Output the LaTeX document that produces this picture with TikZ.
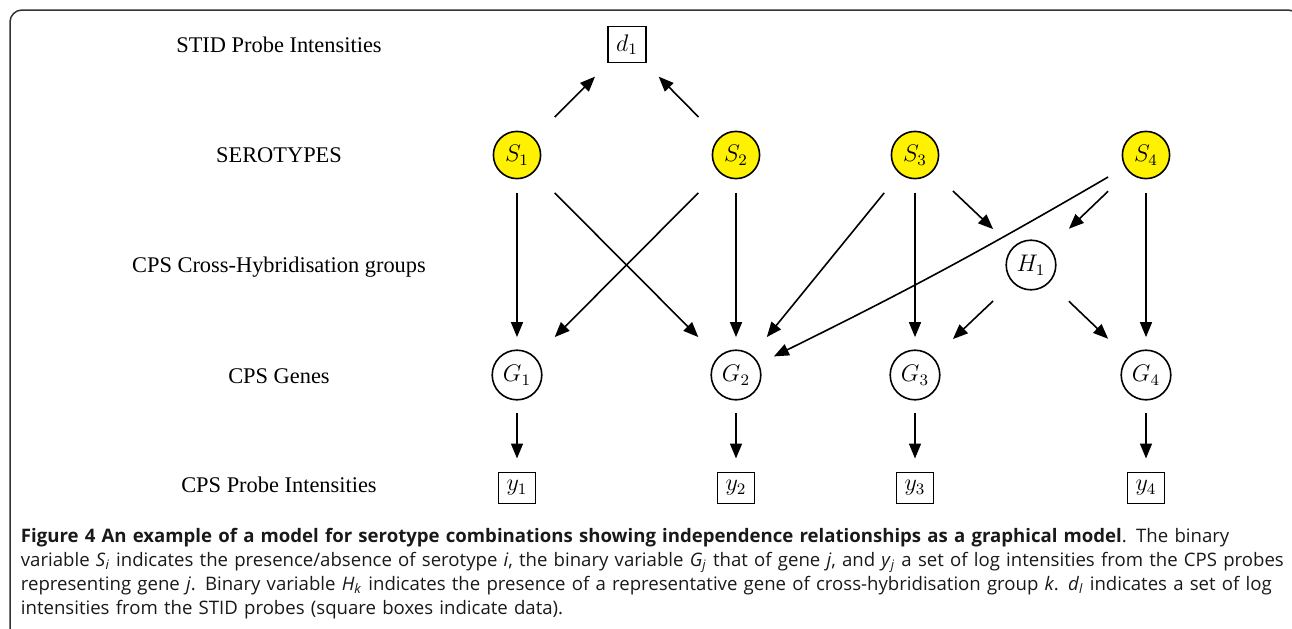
\documentclass[tikz,border=0pt]{standalone}
\usepackage[no-math]{fontspec}
\setmainfont{Liberation Serif}
\newfontfamily\capfont{Open Sans}
\usepackage{xcolor}
\usepackage{tikz}
\usepackage{amsmath, amssymb}
\usetikzlibrary{arrows.meta}

\definecolor{seroyellow}{RGB}{255,242,0}
\tikzset{
  rowlabel/.style={anchor=base, font=\fontsize{11.2}{13}\selectfont},
  sero/.style={rectangle, minimum size=37.5pt, inner sep=0pt, font=\fontsize{12}{14}\selectfont,
    path picture={\draw[line width=0.8pt, fill=seroyellow] (path picture bounding box.center) circle (11.8pt);}},
  gene/.style={rectangle, minimum size=37.5pt, inner sep=0pt, font=\fontsize{12}{14}\selectfont,
    path picture={\draw[line width=0.8pt, fill=white] (path picture bounding box.center) circle (12.4pt);}},
  data/.style={draw, line width=0.8pt, inner sep=4pt, outer sep=7pt, font=\fontsize{12}{14}\selectfont},
  link/.style={-{Triangle[length=7.5pt,width=6pt]}, line width=0.8pt},
  caption/.style={anchor=north west, inner sep=0pt, text width=660pt, align=left,
    font=\capfont\fontsize{9.3}{11.9}\selectfont, text=black!90}
}

\begin{document}
\begin{tikzpicture}[x=5pt,y=-5pt]
  % Outer Box
  \useasboundingbox (0,0) rectangle (129.2,62.8);
  \clip (0,0) rectangle (129.2,62.8);
  \draw[line width=0.75pt, black!80, rounded corners=6pt] (1,1) rectangle (130,64.5);
  %Row labels
  \node[rowlabel] (lstid) at (27.9,5.2) {STID Probe Intensities};
  \node[rowlabel] (lsero) at (27.9,16.2) {SEROTYPES};
  \node[rowlabel] (lhyb) at (27.9,27.2) {CPS Cross-Hybridisation groups};
  \node[rowlabel] (lgene) at (27.9,38.3) {CPS Genes};
  \node[rowlabel] (lprobe) at (27.9,49.2) {CPS Probe Intensities};
  %STID data
  \node[data] (d1) at (62.7,4.45) {$d_1$};
  %Serotypes
  \node[sero] (S1) at (51.7,15.5) {$S_1$};
  \node[sero] (S2) at (73.6,15.5) {$S_2$};
  \node[sero] (S3) at (91.5,15.5) {$S_3$};
  \node[sero] (S4) at (114.6,15.5) {$S_4$};
  %Cross-hybridisation group
  \node[gene] (H1) at (103.1,26.5) {$H_1$};
  %Genes and probes
  \foreach \i/\x in {1/51.7, 2/73.6, 3/91.5, 4/114.6} {
    \node[gene] (G\i) at (\x,37.5) {$G_\i$};
    \node[data] (y\i) at (\x,48.8) {$y_\i$};
    \draw[link] (G\i) -- (y\i);
  }
  %Edges
  \draw[link] (S1) -- (d1);
  \draw[link] (S2) -- (d1);
  \draw[link] (S1) -- (G1);
  \draw[link] (S1) -- (G2);
  \draw[link] (S2) -- (G1);
  \draw[link] (S2) -- (G2);
  \draw[link] (S3) -- (G2);
  \draw[link] (S3) -- (G3);
  \draw[link] (S3) -- (H1);
  \draw[link] (S4) -- (H1);
  \draw[link] (S4) to[bend left=2] (G2);
  \draw[link] (S4) -- (G4);
  \draw[link] (H1) -- (G3);
  \draw[link] (H1) -- (G4);
  %Caption
  \node[caption] (cap) at (2.05,52.8) {\textbf{Figure 4 An example of a model for serotype combinations showing independence relationships as a graphical model}. The binary\\
    variable \textit{S}\textsubscript{\textit{i}} indicates the presence/absence of serotype \textit{i}, the binary variable \textit{G}\textsubscript{\textit{j}} that of gene \textit{j}, and \textit{y}\textsubscript{\textit{j}} a set of log intensities from the CPS probes\\
    representing gene \textit{j}. Binary variable \textit{H}\textsubscript{\textit{k}} indicates the presence of a representative gene of cross-hybridisation group \textit{k}. \textit{d}\textsubscript{\textit{l}} indicates a set of log\\
    intensities from the STID probes (square boxes indicate data).};
\end{tikzpicture}
\end{document}
